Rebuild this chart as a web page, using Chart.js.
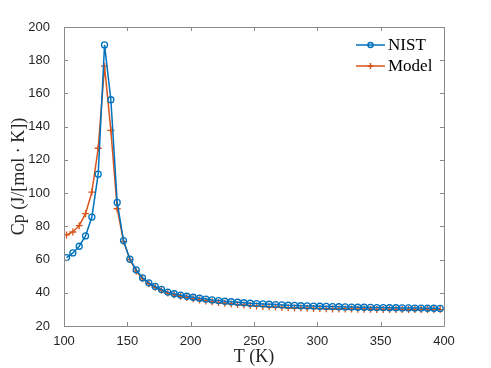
<!DOCTYPE html>
<html>
<head>
<meta charset="utf-8">
<script src="https://cdn.jsdelivr.net/npm/chart.js@4"></script>
<style>
  html, body { margin: 0; padding: 0; background: #fff; }
  #wrap { width: 491px; height: 368px; }
</style>
</head>
<body>
<div id="wrap"><canvas id="c"></canvas></div>
<script>
// temperatures, K
const temps = [];
for (let t = 102; t <= 397; t += 5) temps.push(t);

const nistCp = [61.2, 64.0, 68.0, 74.2, 85.6, 111.4, 189.2, 156.2, 94.4, 71.4,
  60.2, 53.8, 49.0, 46.0, 43.8, 42.0, 40.4, 39.4, 38.6, 37.9,
  37.3, 36.7, 36.2, 35.7, 35.3, 34.9, 34.6, 34.3, 34.0, 33.7,
  33.5, 33.3, 33.1, 32.9, 32.7, 32.5, 32.4, 32.2, 32.1, 32.0,
  31.9, 31.8, 31.7, 31.6, 31.5, 31.4, 31.3, 31.3, 31.2, 31.1,
  31.1, 31.0, 31.0, 30.9, 30.9, 30.8, 30.8, 30.7, 30.7, 30.6];

const modelCp = [74.8, 76.6, 80.4, 87.6, 100.6, 127.0, 176.4, 137.8, 90.6, 71.0,
  60.0, 53.0, 48.5, 45.5, 43.3, 41.5, 39.8, 38.8, 37.9, 37.1,
  36.4, 35.7, 35.1, 34.6, 34.1, 33.7, 33.3, 32.9, 32.6, 32.3,
  32.0, 31.8, 31.6, 31.4, 31.2, 31.0, 30.9, 30.8, 30.7, 30.6,
  30.5, 30.4, 30.3, 30.3, 30.2, 30.2, 30.1, 30.1, 30.1, 30.0,
  30.0, 30.0, 30.0, 29.9, 29.9, 29.9, 29.9, 29.9, 29.9, 29.9];

const xTicks = [100, 150, 200, 250, 300, 350, 400];
const yTicks = [20, 40, 60, 80, 100, 120, 140, 160, 180, 200];

const blue = '#0072BD';
const orange = '#D95319';
const axisGray = '#8a8a8a';
const textGray = '#262626';

// box + inward ticks, MATLAB style
const boxPlugin = {
  id: 'box',
  afterDatasetsDraw(chart) {
    const { ctx, chartArea: a, scales: { x, y } } = chart;
    ctx.save();
    ctx.strokeStyle = axisGray;
    ctx.lineWidth = 1;
    ctx.beginPath();
    ctx.rect(a.left + 0.5, a.top + 0.5, a.right - a.left, a.bottom - a.top);
    const len = 4;
    xTicks.forEach(v => {
      const px = Math.round(x.getPixelForValue(v)) + 0.5;
      ctx.moveTo(px, a.bottom); ctx.lineTo(px, a.bottom - len);
      ctx.moveTo(px, a.top); ctx.lineTo(px, a.top + len);
    });
    yTicks.forEach(v => {
      const py = Math.round(y.getPixelForValue(v)) + 0.5;
      ctx.moveTo(a.left, py); ctx.lineTo(a.left + len, py);
      ctx.moveTo(a.right, py); ctx.lineTo(a.right - len, py);
    });
    ctx.stroke();

    // legend
    const items = chart.data.datasets;
    ctx.font = '17px "Liberation Serif", serif';
    ctx.textBaseline = 'middle';
    items.forEach((ds, i) => {
      const ly = 45 + i * 21;
      const x0 = 356, x1 = 385;
      ctx.strokeStyle = ds.borderColor;
      ctx.lineWidth = 1.5;
      ctx.beginPath();
      ctx.moveTo(x0, ly); ctx.lineTo(x1, ly);
      ctx.stroke();
      const cx = (x0 + x1) / 2;
      ctx.beginPath();
      if (ds.pointStyle === 'circle') {
        ctx.arc(cx, ly, 2.5, 0, Math.PI * 2);
      } else {
        ctx.moveTo(cx - 3, ly); ctx.lineTo(cx + 3, ly);
        ctx.moveTo(cx, ly - 3); ctx.lineTo(cx, ly + 3);
      }
      ctx.stroke();
      ctx.fillStyle = '#000';
      ctx.fillText(ds.label, 388, ly + 1);
    });
    ctx.restore();
  }
};

new Chart(document.getElementById('c'), {
  type: 'line',
  data: {
    labels: temps,
    datasets: [{
      label: 'NIST',
      data: temps.map((t, i) => ({ x: t, y: nistCp[i] })),
      borderColor: blue,
      backgroundColor: 'rgba(0,0,0,0)',
      borderWidth: 1.5,
      pointStyle: 'circle',
      pointRadius: 3,
      pointBorderWidth: 1.3,
      pointBorderColor: blue,
      pointBackgroundColor: 'rgba(0,0,0,0)',
      tension: 0,
    }, {
      label: 'Model',
      data: temps.map((t, i) => ({ x: t, y: modelCp[i] })),
      borderColor: orange,
      backgroundColor: orange,
      borderWidth: 1.5,
      pointStyle: 'cross',
      pointRadius: 3.5,
      pointBorderWidth: 1.3,
      pointBorderColor: orange,
      tension: 0,
    }]
  },
  options: {
    responsive: true,
    maintainAspectRatio: false,
    animation: false,
    events: [],
    layout: { padding: { left: 0, right: 47, top: 27, bottom: 0 } },
    plugins: { legend: { display: false }, tooltip: { enabled: false } },
    scales: {
      x: {
        type: 'linear',
        min: 100, max: 400,
        afterFit(s) { s.height = 42; },
        afterBuildTicks(s) { s.ticks = xTicks.map(v => ({ value: v })); },
        grid: { display: false },
        border: { display: false },
        ticks: { color: textGray, font: { family: '"Liberation Sans", Arial', size: 13 }, padding: 0, maxRotation: 0 },
        title: { display: true, text: 'T (K)', color: textGray, font: { family: '"Liberation Serif", serif', size: 18 }, padding: { top: -2, bottom: 0 } }
      },
      y: {
        type: 'linear',
        min: 20, max: 200,
        afterFit(s) { s.width = 64; },
        afterBuildTicks(s) { s.ticks = yTicks.map(v => ({ value: v })); },
        grid: { display: false },
        border: { display: false },
        ticks: { color: textGray, font: { family: '"Liberation Sans", Arial', size: 13 }, padding: 6 },
        title: { display: true, text: 'Cp (J/[mol · K])', color: textGray, font: { family: '"Liberation Serif", serif', size: 18 }, padding: { top: 8, bottom: 0 } }
      }
    }
  },
  plugins: [boxPlugin]
});
</script>
</body>
</html>
